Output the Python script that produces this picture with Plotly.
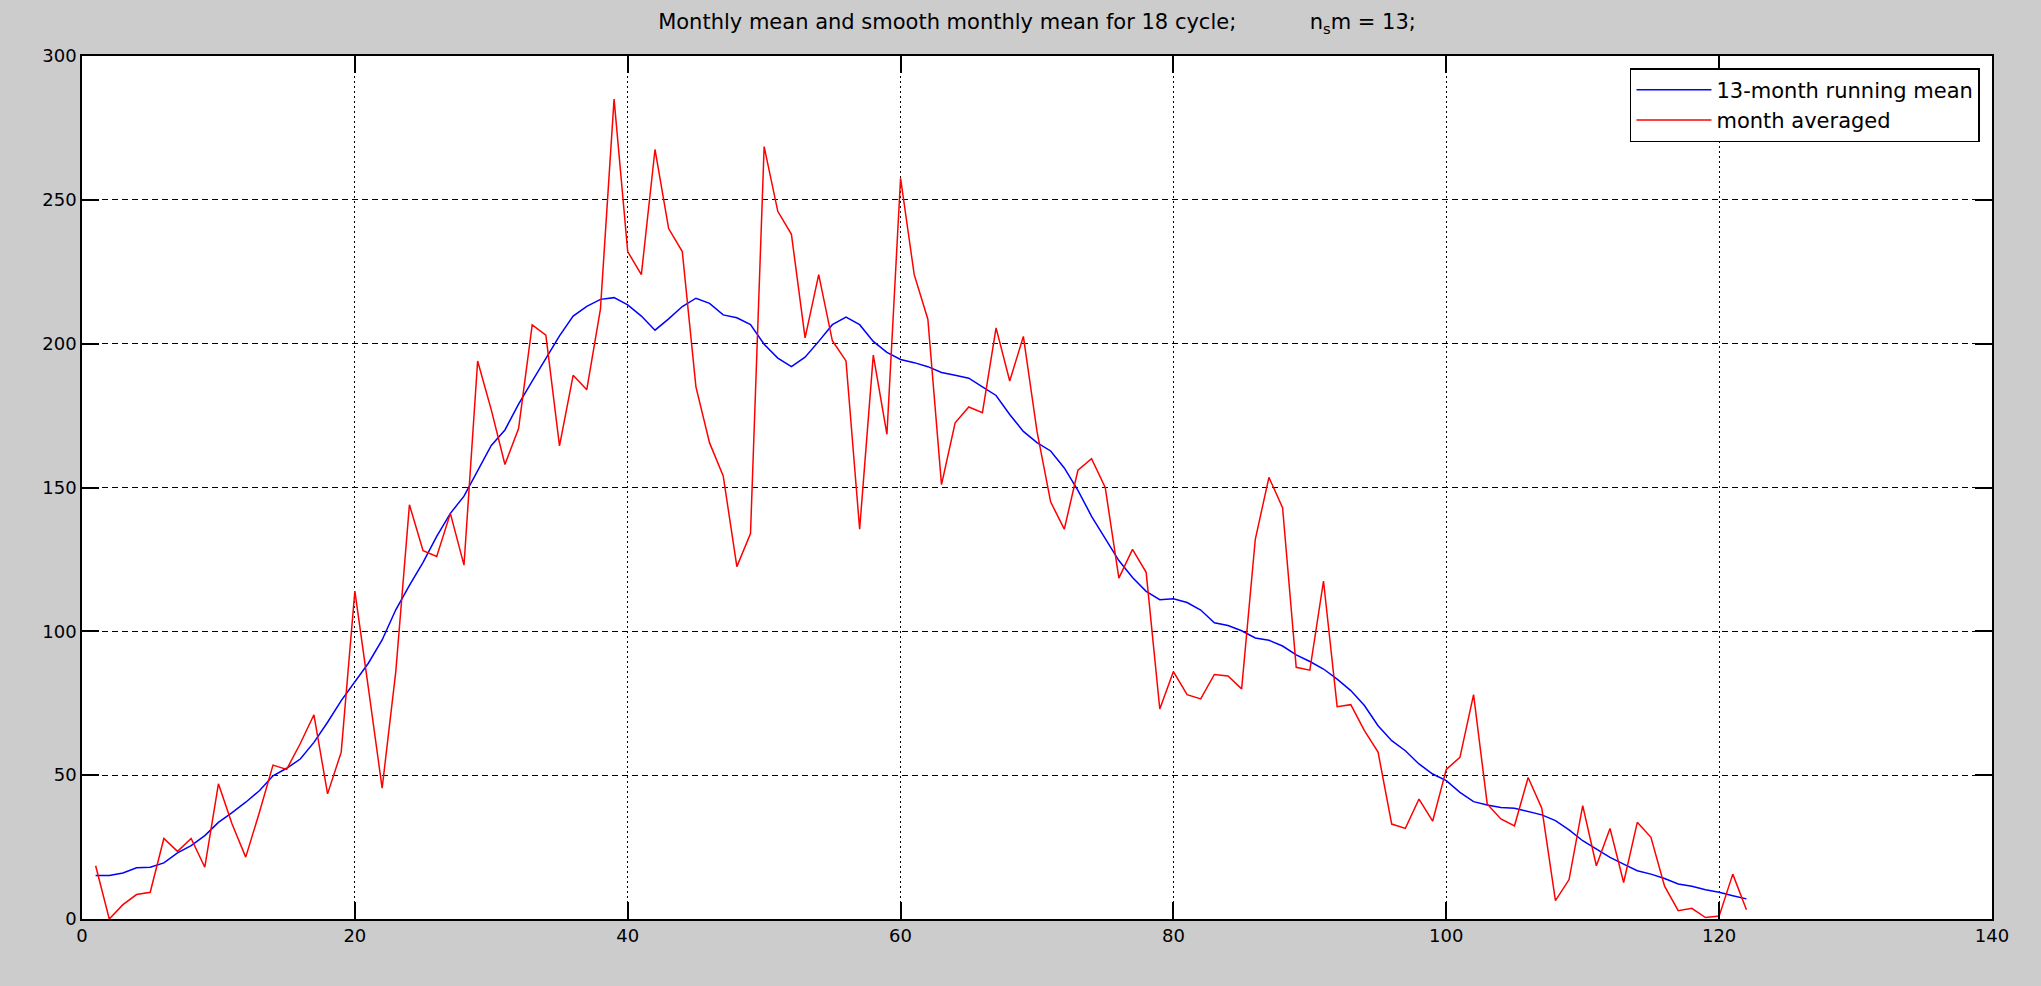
import plotly.graph_objects as go

months = list(range(1, 123))

month_averaged = [
    18.5, 0, 5, 8.5, 9.3, 28, 23.5, 28, 18, 47,
    33, 21.5, 37, 53.5, 52, 61, 71, 43.5, 58, 114,
    80, 45.5, 86, 144, 128, 126, 141, 123, 194, 177,
    158, 170.5, 206.5, 203, 164.5, 189, 184, 212, 285, 232,
    224, 267.5, 240, 232, 185, 165.5, 154, 122.5, 134, 268.5,
    246, 238, 202, 224, 201, 194, 135.5, 196, 168.5, 257.5,
    224, 208.5, 151, 172.5, 178, 176, 205.5, 187, 202.5, 169.5,
    145, 135.5, 156, 160, 150, 118.5, 128.5, 120.5, 73, 86,
    78, 76.5, 85, 84.5, 80, 132, 153.5, 143, 87.5, 86.5,
    117.5, 73.8, 74.5, 65.5, 58, 33, 31.5, 41.7, 34, 52,
    56.2, 78, 40, 34.8, 32.4, 49.2, 38.5, 6.4, 13.7, 39.4,
    18.5, 31.5, 12.7, 33.6, 28.4, 11.4, 2.9, 3.7, 0.5, 1,
    15.6, 3.2,
]

running_mean_13 = [
    15.1, 15.1, 16, 17.8, 18, 19.5, 23, 25.5, 29, 33.6,
    37, 40.6, 44.6, 49.8, 52.4, 55.6, 61.4, 68.4, 75.9, 82.3,
    89, 97, 107.5, 116, 124, 133, 141, 147, 156, 164.6,
    170, 179, 187, 195, 202.7, 209.6, 213, 215.4, 216, 213.5,
    209.6, 204.7, 208.6, 212.9, 215.8, 214, 210, 209, 206.6, 199.8,
    195, 192, 195.3, 200.8, 206.6, 209.2, 206.6, 200.8, 197, 194.5,
    193.4, 192, 190, 189, 188, 185, 182, 175.4, 169.5, 165.6,
    162.7, 156.8, 149, 140, 132.4, 124.6, 118.75, 113.9, 111, 111.3,
    110, 107.4, 103, 102, 100.2, 97.7, 96.9, 94.9, 91.8, 89.5,
    86.9, 83.4, 79.4, 74.2, 67.2, 62, 58.5, 53.9, 50.4, 48.1,
    44, 40.8, 39.6, 38.8, 38.5, 37.3, 36.2, 34.2, 31, 27.2,
    24.3, 21.4, 19.1, 16.8, 15.6, 14.1, 12.2, 11.4, 10.2, 9.3,
    8.1, 7,
]

x_ticks = [0, 20, 40, 60, 80, 100, 120, 140]
y_ticks = [0, 50, 100, 150, 200, 250, 300]

FONT = "DejaVu Sans"

fig = go.Figure()
fig.add_trace(go.Scatter(
    x=months, y=running_mean_13, mode="lines",
    name="13-month running mean",
    line=dict(color="#0000ff", width=1.5),
))
fig.add_trace(go.Scatter(
    x=months, y=month_averaged, mode="lines",
    name="month averaged",
    line=dict(color="#ff0000", width=1.5),
))

gap = "\u00a0" * 11
fig.update_layout(
    width=2041, height=986,
    paper_bgcolor="#cccccc",
    plot_bgcolor="#ffffff",
    margin=dict(l=82, r=49, t=56, b=67, autoexpand=False),
    font=dict(family=FONT, size=18, color="#000000"),
    title=dict(
        text="Monthly mean and smooth monthly mean for 18 cycle;" + gap + "n<sub>s</sub>m = 13;",
        font=dict(family=FONT, size=21, color="#000000"),
        x=0.5, xref="paper", xanchor="center",
        y=1 - 22 / 986, yref="container", yanchor="middle",
    ),
    showlegend=True,
    legend=dict(
        x=0.9937, y=0.986, xanchor="right", yanchor="top",
        bgcolor="#ffffff", bordercolor="#000000", borderwidth=1.5,
        font=dict(family=FONT, size=21, color="#000000"),
        itemwidth=75,
        tracegroupgap=0,
    ),
)

fig.update_xaxes(
    range=[0, 140], tickvals=x_ticks, ticktext=[str(v) for v in x_ticks],
    showline=True, linecolor="#000000", linewidth=1.5, mirror="ticks",
    ticks="inside", ticklen=17, tickwidth=1.5, tickcolor="#000000",
    showgrid=True, gridcolor="#000000", gridwidth=1, griddash="2px,3px",
    zeroline=False, tickfont=dict(family=FONT, size=18, color="#000000"),
)
fig.update_yaxes(
    range=[0, 300], tickvals=y_ticks, ticktext=[str(v) for v in y_ticks],
    showline=True, linecolor="#000000", linewidth=1.5, mirror="ticks",
    ticks="inside", ticklen=17, tickwidth=1.5, tickcolor="#000000",
    showgrid=True, gridcolor="#000000", gridwidth=1, griddash="6px,4px",
    zeroline=False, tickfont=dict(family=FONT, size=18, color="#000000"),
)

fig.write_html("out.html")
